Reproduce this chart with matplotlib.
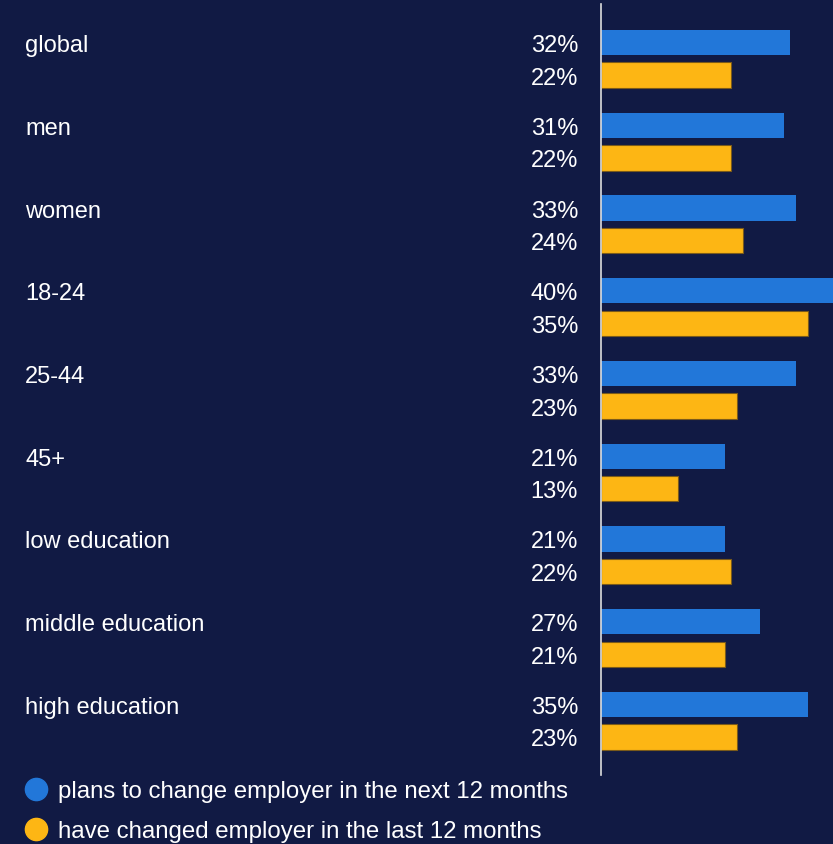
import numpy as np
import matplotlib.pyplot as plt
from matplotlib.lines import Line2D
import matplotlib.transforms as mtransforms

categories = ['global', 'men', 'women', '18-24', '25-44', '45+',
              'low education', 'middle education', 'high education']
plans_next = [32, 31, 33, 40, 33, 21, 21, 27, 35]
changed_last = [22, 22, 24, 35, 23, 13, 22, 21, 23]
legend_labels = ['plans to change employer in the next 12 months',
                 'have changed employer in the last 12 months']

bg = '#111a44'
blue = '#2277d9'
yellow = '#fdb614'

W, H = 833, 845
fig = plt.figure(figsize=(W / 100, H / 100), dpi=100, facecolor=bg)
# axes box in pixels: x 601..833, y 5..776 (from top)
ax = fig.add_axes([601 / W, 1 - 776 / H, (833 - 601) / W, 771 / H])
ax.set_facecolor(bg)

y = np.arange(len(categories))
off = 0.197
h = 0.306
ax.barh(y - off, plans_next, height=h, color=blue)
ax.barh(y + off, changed_last, height=h, color=yellow, edgecolor='#7a5a1a', linewidth=0.8)

ax.set_xlim(0, 39.3)
ax.set_ylim(8.657, -0.663)
ax.set_xticks([])
ax.set_yticks([])
for s in ['top', 'right', 'bottom']:
    ax.spines[s].set_visible(False)
ax.spines['left'].set_color('#dddddd')
ax.spines['left'].set_linewidth(1.2)

trans = mtransforms.blended_transform_factory(fig.transFigure, ax.transData)
font = 'Liberation Sans'
fs = 17
for i, cat in enumerate(categories):
    fig.text(25 / W, i - off, cat, transform=trans, color='white', fontsize=fs,
             family=font, va='center_baseline', ha='left')
    fig.text(578 / W, i - off, f'{plans_next[i]}%', transform=trans, color='white',
             fontsize=fs, family=font, va='center_baseline', ha='right')
    fig.text(578 / W, i + off, f'{changed_last[i]}%', transform=trans, color='white',
             fontsize=fs, family=font, va='center_baseline', ha='right')

for ypix, col, lab in [(790, blue, legend_labels[0]), (830, yellow, legend_labels[1])]:
    fig.add_artist(Line2D([36 / W], [1 - ypix / H], marker='o', markersize=16,
                          color=col, transform=fig.transFigure, linestyle='none'))
    fig.text(58 / W, 1 - ypix / H, lab, color='white', fontsize=17.3, family=font,
             va='center_baseline', ha='left')

fig.savefig('out.png', dpi=100, facecolor=bg)
